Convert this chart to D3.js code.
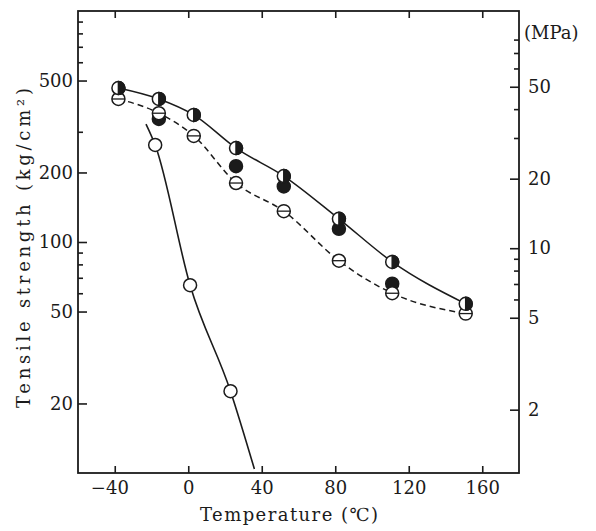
<!DOCTYPE html>
<html>
<head>
<meta charset="utf-8">
<script src="https://cdn.jsdelivr.net/npm/d3@7"></script>
<style>
body { margin: 0; background: #fff }
svg { font-family: "DejaVu Serif", "Liberation Serif", serif; }
</style>
</head>
<body>
<svg width="596" height="531"></svg>
<script>
// values (kg/cm2 against temperature, C)
var temps = [-38, -16, 3, 26, 52, 82, 111, 151]
var halfVals = [464, 416, 355, 255, 193, 126, 82, 54]
var barVals = [416, 361, 288, 180, 136, 83, 60, 49]
var solidTemps = [-16, 26, 52, 82, 111]
var solidVals = [341, 213, 174, 114, 66]
var openTemps = [-18, 1, 23]
var openVals = [263, 65, 22.6]
// the hand drawn curve through the open circles runs past them
var openCurveTemps = [-23, -18, 1, 23, 36]
var openCurveVals = [324, 263, 65, 22.6, 10.4]

var xTicks = [-40, 0, 40, 80, 120, 160]
var yTicks = [20, 50, 100, 200, 500]
var yMinor = [60, 70, 80, 90, 300, 600, 700, 800, 900]
var mpaTicks = [2, 5, 10, 20, 50]
var mpaMinor = [6, 7, 8, 9, 30, 40, 60, 70, 80]
var kgPerMPa = 9.4

var ink = "#1b1b1b"
var r = 6.5
// plot frame ("top" is taken by window.top, so prefixed names)
var pLeft = 78, pRight = 519, pTop = 11, pBottom = 473

var svg = d3.select("svg")
var x = d3.scaleLinear().domain([-60, 180]).range([pLeft, pRight])
var y = d3.scaleLog().domain([10, 1000]).range([pBottom, pTop])
var yMpa = d3.scaleLog().domain([10 / kgPerMPa, 1000 / kgPerMPa]).range([pBottom, pTop])

function styleAxis(g) {
    g.select(".domain").remove()
    g.selectAll("line").attr("stroke", ink).attr("stroke-width", 1.6)
    g.selectAll("text").attr("fill", ink).attr("font-size", 18)
        .attr("font-family", "DejaVu Serif, serif")
}

// major and minor ticks, all pointing inward
svg.append("g").attr("transform", "translate(" + pLeft + ",0)")
    .call(d3.axisLeft(y).tickValues(yTicks).tickFormat(d3.format("d"))
        .tickSizeInner(-9).tickSizeOuter(0).tickPadding(5))
    .call(styleAxis)
svg.append("g").attr("transform", "translate(" + pLeft + ",0)")
    .call(d3.axisLeft(y).tickValues(yMinor).tickFormat("").tickSizeInner(-5).tickSizeOuter(0))
    .call(styleAxis)
svg.append("g").attr("transform", "translate(" + pRight + ",0)")
    .call(d3.axisRight(yMpa).tickValues(mpaTicks).tickFormat(d3.format("d"))
        .tickSizeInner(-9).tickSizeOuter(0).tickPadding(9))
    .call(styleAxis)
svg.append("g").attr("transform", "translate(" + pRight + ",0)")
    .call(d3.axisRight(yMpa).tickValues(mpaMinor).tickFormat("").tickSizeInner(-5).tickSizeOuter(0))
    .call(styleAxis)
svg.append("g").attr("transform", "translate(0," + pBottom + ")")
    .call(d3.axisBottom(x).tickValues(xTicks).tickFormat(d3.format("d"))
        .tickSizeInner(-7).tickSizeOuter(0).tickPadding(8))
    .call(styleAxis)
    // digits sit on the tick, the minus hangs to the left
    .selectAll("text").attr("dx", function(d) { return d < 0 ? "-0.3em" : null })
svg.append("g").attr("transform", "translate(0," + pTop + ")")
    .call(d3.axisTop(x).tickValues(xTicks).tickFormat("").tickSizeInner(-7).tickSizeOuter(0))
    .call(styleAxis)

svg.append("rect")
    .attr("x", pLeft).attr("y", pTop)
    .attr("width", pRight - pLeft).attr("height", pBottom - pTop)
    .attr("fill", "none").attr("stroke", ink).attr("stroke-width", 1.8)

// curves
var line = d3.line()
    .x(function(d) { return x(d[0]) })
    .y(function(d) { return y(d[1]) })
    .curve(d3.curveMonotoneX)

function pairs(ts, vs) { return ts.map(function(t, i) { return [t, vs[i]] }) }

svg.append("path").datum(pairs(temps, halfVals)).attr("d", line)
    .attr("fill", "none").attr("stroke", ink).attr("stroke-width", 1.5)
svg.append("path").datum(pairs(temps, barVals)).attr("d", line)
    .attr("fill", "none").attr("stroke", ink).attr("stroke-width", 1.5)
    .attr("stroke-dasharray", "6,4")
svg.append("path").datum(pairs(openCurveTemps, openCurveVals)).attr("d", line)
    .attr("fill", "none").attr("stroke", ink).attr("stroke-width", 1.6)

// markers
svg.selectAll(".open").data(pairs(openTemps, openVals)).enter()
    .append("circle").attr("class", "open")
    .attr("cx", function(d) { return x(d[0]) }).attr("cy", function(d) { return y(d[1]) })
    .attr("r", r).attr("fill", "#fff").attr("stroke", ink).attr("stroke-width", 1.5)

svg.selectAll(".solid").data(pairs(solidTemps, solidVals)).enter()
    .append("circle").attr("class", "solid")
    .attr("cx", function(d) { return x(d[0]) }).attr("cy", function(d) { return y(d[1]) })
    .attr("r", r).attr("fill", ink).attr("stroke", ink).attr("stroke-width", 1.5)

var bar = svg.selectAll(".bar").data(pairs(temps, barVals)).enter()
    .append("g").attr("class", "bar")
    .attr("transform", function(d) { return "translate(" + x(d[0]) + "," + y(d[1]) + ")" })
bar.append("circle").attr("r", r).attr("fill", "#fff").attr("stroke", ink).attr("stroke-width", 1.5)
bar.append("line").attr("x1", -r).attr("x2", r).attr("stroke", ink).attr("stroke-width", 1.3)

var half = svg.selectAll(".half").data(pairs(temps, halfVals)).enter()
    .append("g").attr("class", "half")
    .attr("transform", function(d) { return "translate(" + x(d[0]) + "," + y(d[1]) + ")" })
half.append("circle").attr("r", r).attr("fill", "#fff").attr("stroke", ink).attr("stroke-width", 1.5)
half.append("path")
    .attr("d", "M0," + (-r) + " A" + r + "," + r + " 0 0 1 0," + r + " Z")
    .attr("fill", ink).attr("stroke", ink).attr("stroke-width", 1.5)

// titles
svg.append("text").attr("x", 524).attr("y", 39)
    .attr("font-size", 18).attr("fill", ink).text("(MPa)")
svg.append("text").attr("x", 289).attr("y", 521).attr("text-anchor", "middle")
    .attr("font-size", 18).attr("fill", ink)
    .attr("textLength", 178).attr("lengthAdjust", "spacing")
    .text("Temperature (℃)")
svg.append("text").attr("transform", "translate(30,248) rotate(-90)")
    .attr("text-anchor", "middle").attr("font-size", 18).attr("fill", ink)
    .attr("textLength", 320).attr("lengthAdjust", "spacing")
    .text("Tensile strength (kg/cm²)")
</script>
</body>
</html>
